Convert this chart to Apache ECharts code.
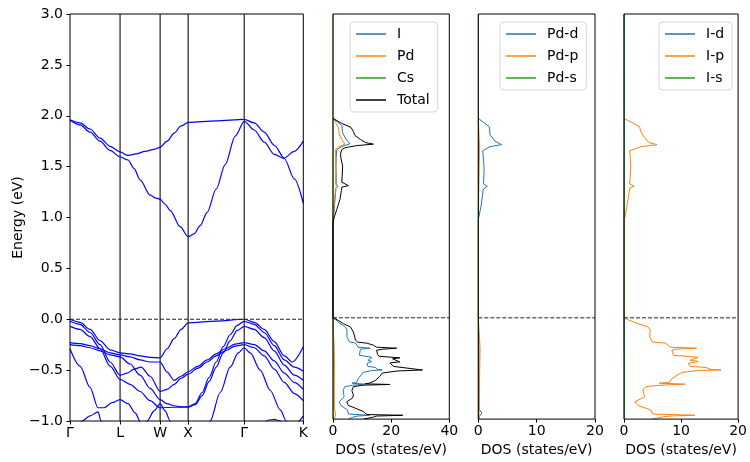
<!DOCTYPE html>
<html><head><meta charset="utf-8">
<script src="https://cdn.jsdelivr.net/npm/echarts@6/dist/echarts.min.js"></script>
<style>html,body{margin:0;padding:0;background:#fff}#c{width:750px;height:462px}</style>
</head><body><div id="c"></div>
<script>
// ---- k-path ----
const kTicks = [0, 50, 90, 118, 174, 233];
const kLabels = ['Γ', 'L', 'W', 'X', 'Γ', 'K'];
const fermiLevel = 0;
const energyRange = [-1, 3];

// ---- bands: [k, E(eV)] ----
const cb1 = [[0,1.955],[10,1.91],[20,1.84],[30,1.75],[40,1.66],[50,1.595],[58,1.565],[64,1.48],[70,1.37],[80,1.22],[86,1.19],[90,1.18],[95,1.13],[100,1.07],[110,0.91],[118,0.81],[124,0.84],[130,0.92],[137,1.05],[146,1.28],[155,1.52],[165,1.80],[174,1.945],[184,1.86],[194,1.74],[204,1.62],[214,1.58],[224,1.38],[233,1.14]];
const cb2 = [[0,1.96],[10,1.93],[20,1.87],[30,1.78],[40,1.70],[50,1.645],[58,1.61],[66,1.625],[75,1.65],[84,1.67],[90,1.69],[97,1.75],[104,1.83],[111,1.90],[118,1.935],[146,1.95],[174,1.965],[184,1.93],[194,1.84],[204,1.71],[214,1.585],[224,1.65],[233,1.75]];
const vb1 = [[0,0],[10,-0.03],[20,-0.10],[30,-0.21],[40,-0.30],[50,-0.33],[60,-0.34],[70,-0.36],[80,-0.375],[90,-0.38],[97,-0.29],[104,-0.19],[111,-0.10],[118,-0.035],[146,-0.018],[174,0],[184,-0.03],[194,-0.10],[204,-0.22],[214,-0.36],[222,-0.42],[233,-0.27]];
const vb2 = [[0,-0.02],[10,-0.05],[20,-0.13],[30,-0.25],[40,-0.42],[50,-0.55],[57,-0.53],[64,-0.49],[71,-0.47],[80,-0.56],[90,-0.71],[97,-0.69],[104,-0.64],[111,-0.58],[118,-0.539],[128,-0.48],[137,-0.42],[146,-0.36],[155,-0.31],[165,-0.265],[174,-0.25],[184,-0.28],[194,-0.36],[204,-0.49],[214,-0.62],[224,-0.73],[233,-0.80]];
const vb3 = [[0,-0.07],[10,-0.10],[20,-0.17],[30,-0.29],[40,-0.46],[50,-0.59],[60,-0.64],[70,-0.71],[80,-0.80],[90,-0.87],[104,-0.865],[118,-0.865],[125,-0.84],[132,-0.75],[139,-0.61],[146,-0.47],[153,-0.33],[160,-0.21],[167,-0.11],[174,-0.07],[184,-0.10],[194,-0.18],[204,-0.31],[214,-0.45],[224,-0.55],[233,-0.60]];
const vb4 = [[0,-0.23],[10,-0.24],[20,-0.26],[30,-0.29],[40,-0.33],[50,-0.35],[60,-0.37],[70,-0.40],[80,-0.42],[90,-0.42],[97,-0.52],[104,-0.60],[111,-0.56],[118,-0.516],[128,-0.46],[137,-0.40],[146,-0.34],[155,-0.29],[165,-0.245],[174,-0.23],[184,-0.25],[194,-0.31],[204,-0.41],[214,-0.53],[224,-0.62],[233,-0.69]];
const vb5 = [[0,-0.25],[10,-0.26],[20,-0.28],[30,-0.31],[40,-0.35],[50,-0.37],[60,-0.44],[70,-0.55],[80,-0.68],[90,-0.79],[97,-0.83],[104,-0.85],[111,-0.86],[118,-0.86],[125,-0.83],[132,-0.72],[139,-0.57],[146,-0.42],[153,-0.27],[160,-0.15],[167,-0.06],[174,-0.02],[184,-0.05],[194,-0.13],[204,-0.26],[214,-0.40],[224,-0.47],[233,-0.51]];
const db0 = [[6,-1.1],[12,-1.0],[20,-0.95],[28,-0.91],[31,-1.0],[34,-1.1]];
const db1 = [[0,-0.29],[10,-0.46],[20,-0.67],[28,-0.87],[34,-0.87],[42,-0.82],[50,-0.79],[58,-0.83],[65,-0.92],[71,-1.02],[75,-1.1]];
const db2 = [[135,-1.1],[140,-1.0],[150,-0.72],[160,-0.47],[168,-0.33],[174,-0.28],[180,-0.33],[190,-0.50],[200,-0.70],[210,-0.89],[216,-1.0],[220,-1.1]];
const db3 = [[72,-1.1],[77,-1.0],[84,-0.9],[90,-0.83],[95,-0.9],[100,-1.0],[104,-1.1]];
const db4 = [[192,-1.05],[198,-0.99],[204,-0.985],[210,-1.0],[214,-1.05]];
const db5 = [[220,-1.1],[226,-1.02],[233,-0.95]];

// ---- DOS: [E(eV), states/eV] ----
const dosTotal = [[1.97,0],[1.955,0.5],[1.92,3.0],[1.88,6.2],[1.84,7.0],[1.80,7.6],[1.76,9.5],[1.73,11.2],[1.715,13.9],[1.70,8.0],[1.68,4.2],[1.66,3.0],[1.62,2.6],[1.58,2.7],[1.50,3.3],[1.42,3.2],[1.34,3.0],[1.305,5.3],[1.29,3.0],[1.26,2.9],[1.17,2.4],[1.07,1.3],[1.00,0.5],[0.94,0],[0,0],[-0.02,1.5],[-0.057,3.6],[-0.09,6.0],[-0.14,7.0],[-0.19,7.5],[-0.22,7.7],[-0.24,8.5],[-0.25,11.6],[-0.27,13.9],[-0.29,15.0],[-0.30,21.9],[-0.31,17.0],[-0.32,15.0],[-0.36,15.3],[-0.38,15.8],[-0.395,23.0],[-0.405,20.5],[-0.42,20.5],[-0.435,23.0],[-0.445,19.6],[-0.48,20.8],[-0.50,26.5],[-0.515,30.8],[-0.525,22.0],[-0.545,17.0],[-0.58,16.0],[-0.62,14.5],[-0.645,12.5],[-0.652,11.0],[-0.658,19.6],[-0.665,10.0],[-0.68,7.0],[-0.72,6.5],[-0.76,7.0],[-0.79,6.8],[-0.83,4.7],[-0.865,5.3],[-0.89,7.5],[-0.925,10.4],[-0.955,11.6],[-0.962,24.0],[-0.97,15.0],[-0.98,13.9],[-1.0,10.5]];
const dosI = [[1.97,0],[1.94,1.2],[1.90,3.0],[1.83,3.3],[1.76,4.5],[1.72,5.9],[1.69,3.0],[1.66,1.3],[1.58,1.1],[1.50,1.0],[1.40,1.1],[1.32,1.1],[1.30,1.7],[1.28,1.0],[1.17,0.7],[1.05,0.35],[0.97,0],[0,0],[-0.02,0.9],[-0.047,2.0],[-0.09,4.3],[-0.12,4.8],[-0.19,4.8],[-0.237,5.6],[-0.25,7.8],[-0.29,8.6],[-0.30,12.8],[-0.31,9.4],[-0.32,8.8],[-0.37,9.1],[-0.39,13.3],[-0.42,12.0],[-0.43,13.3],[-0.45,11.7],[-0.48,12.0],[-0.49,14.6],[-0.51,15.4],[-0.515,16.9],[-0.52,13.3],[-0.54,10.4],[-0.60,8.7],[-0.64,8.1],[-0.645,6.5],[-0.655,10.9],[-0.665,6.8],[-0.68,4.1],[-0.71,3.5],[-0.78,3.8],[-0.83,2.1],[-0.865,2.7],[-0.91,5.0],[-0.95,5.3],[-0.962,12.6],[-0.97,8.3],[-0.98,7.0],[-1.0,5.3]];
const dosPd = [[1.97,0],[1.93,0.8],[1.88,1.9],[1.82,2.1],[1.76,3.0],[1.715,4.1],[1.69,2.0],[1.66,0.8],[1.55,1.0],[1.45,1.0],[1.32,0.9],[1.30,1.5],[1.28,0.9],[1.15,0.5],[1.0,0.1],[0.96,0],[0,0],[-0.1,0.1],[-0.3,0.4],[-0.5,0.5],[-0.7,0.4],[-0.9,0.5],[-0.95,0.9],[-1.0,0.5]];
const dosCs = [[3,0],[2,0],[1,0],[0,0],[-0.3,0.05],[-0.6,0.06],[-1.0,0.05]];
const dosPdD = [[1.97,0],[1.93,0.9],[1.886,1.9],[1.81,2.0],[1.745,2.85],[1.71,4.0],[1.69,2.0],[1.65,0.75],[1.55,0.9],[1.47,1.0],[1.32,0.9],[1.30,1.55],[1.27,0.85],[1.11,0.5],[0.97,0],[0,0],[-0.3,0.1],[-0.6,0.1],[-0.9,0.15],[-0.94,0.6],[-0.97,0.2],[-1.0,0.1]];
const dosPdP = [[1.97,0],[1.7,0.2],[1.3,0.1],[0.97,0],[0,0],[-0.1,0.1],[-0.3,0.3],[-0.5,0.25],[-0.8,0.15],[-1.0,0.1]];
const dosPdS = [[3,0],[2,0],[1,0],[0,0],[-0.5,0],[-1.0,0]];
const dosID = [[3,0],[1.7,0.05],[1,0],[0,0],[-0.5,0.05],[-1.0,0.05]];
const dosIP = [[1.97,0],[1.94,1.0],[1.89,2.7],[1.83,3.0],[1.78,3.6],[1.73,4.4],[1.71,5.8],[1.69,3.0],[1.65,1.0],[1.58,1.1],[1.50,1.2],[1.40,1.1],[1.32,1.0],[1.30,1.8],[1.28,1.0],[1.17,0.7],[1.05,0.35],[0.975,0.1],[0.95,0],[0,0],[-0.02,0.8],[-0.047,1.9],[-0.09,4.2],[-0.12,4.6],[-0.19,4.5],[-0.24,5.0],[-0.25,7.3],[-0.29,8.1],[-0.30,12.7],[-0.31,9.0],[-0.32,8.4],[-0.37,8.7],[-0.39,13.0],[-0.42,11.6],[-0.43,13.0],[-0.45,11.3],[-0.48,11.6],[-0.49,14.4],[-0.51,15.2],[-0.515,17.0],[-0.52,13.0],[-0.54,10.1],[-0.60,8.4],[-0.64,7.9],[-0.645,6.2],[-0.655,10.7],[-0.665,6.5],[-0.68,3.9],[-0.71,3.3],[-0.78,3.6],[-0.83,1.9],[-0.865,2.45],[-0.91,4.7],[-0.95,5.0],[-0.962,12.4],[-0.97,8.0],[-0.98,6.7],[-1.0,5.0]];
const dosIS = [[3,0.05],[2,0.05],[1,0.05],[0,0.05],[-0.5,0.08],[-1.0,0.08]];

const FONT = 'DejaVu Sans';
const C_BLUE = '#1f77b4', C_ORANGE = '#ff7f0e', C_GREEN = '#2ca02c';
const xMaxes = [233, 40, 20, 20];

const fmtE = v => (v < 0 ? '\u2212' + Math.abs(v).toFixed(1) : v.toFixed(1));

const grids = [
  {left: 70, top: 14, width: 233.3, height: 407},
  {left: 333, top: 14, width: 116.3, height: 407},
  {left: 478.3, top: 14, width: 116.7, height: 407},
  {left: 624, top: 14, width: 116, height: 407}
].map(g => Object.assign({show: true, z: 10, borderColor: '#000', borderWidth: 1, backgroundColor: 'transparent'}, g));

const tickLabel = {color: '#000', fontFamily: FONT, fontSize: 14};
const axisTickStyle = {show: true, inside: false, length: 3.5, lineStyle: {color: '#000', width: 1}};
const noLine = {show: false, onZero: false};

const xAxes = [
  {gridIndex: 0, type: 'value', min: 0, max: xMaxes[0], position: 'bottom',
   axisLine: noLine, splitLine: {show: false}, minorTick: {show: false},
   axisTick: Object.assign({customValues: kTicks}, axisTickStyle),
   axisLabel: Object.assign({customValues: kTicks, margin: 5,
     formatter: v => kLabels[kTicks.indexOf(v)] || ''}, tickLabel)}
];
[1, 2, 3].forEach(i => xAxes.push({
  gridIndex: i, type: 'value', min: 0, max: xMaxes[i], interval: xMaxes[i] / 2, position: 'bottom',
  axisLine: noLine, splitLine: {show: false}, minorTick: {show: false}, axisTick: axisTickStyle,
  axisLabel: Object.assign({margin: 5}, tickLabel),
  name: 'DOS (states/eV)', nameLocation: 'middle', nameGap: 21, nameTextStyle: tickLabel
}));

const yAxes = [0, 1, 2, 3].map(i => ({
  gridIndex: i, type: 'value', min: energyRange[0], max: energyRange[1], interval: 0.5, position: 'left',
  axisLine: noLine, splitLine: {show: false}, minorTick: {show: false},
  axisTick: i === 0 ? axisTickStyle : {show: false},
  axisLabel: i === 0 ? Object.assign({margin: 7, formatter: fmtE}, tickLabel) : {show: false},
  name: i === 0 ? 'Energy (eV)' : '', nameLocation: 'middle', nameGap: 45, nameRotate: 90,
  nameTextStyle: tickLabel
}));

const series = [];
// high-symmetry vertical lines
kTicks.slice(1, -1).forEach(k => series.push({
  type: 'line', xAxisIndex: 0, yAxisIndex: 0, symbol: 'none', silent: true, animation: false, z: 3,
  data: [[k, energyRange[0]], [k, energyRange[1]]],
  lineStyle: {color: '#222', width: 1.2}
}));
// Fermi level dashed lines
[0, 1, 2, 3].forEach(i => series.push({
  type: 'line', xAxisIndex: i, yAxisIndex: i, symbol: 'none', silent: true, animation: false, z: 4,
  data: [[0, fermiLevel], [xMaxes[i], fermiLevel]],
  lineStyle: {color: '#222', width: 1, type: [4, 2]}
}));

const bands = [cb1, cb2, vb1, vb2, vb3, vb4, vb5, db0, db1, db2, db3, db4, db5];
bands.forEach(b => series.push({
  type: 'line', xAxisIndex: 0, yAxisIndex: 0, data: b, symbol: 'none',
  smooth: 0.3, smoothMonotone: 'x', silent: true, animation: false, z: 2,
  lineStyle: {color: '#0000ff', width: 1.2}
}));

function dosSeries(name, arr, color, gi) {
  return {name, type: 'line', xAxisIndex: gi, yAxisIndex: gi, symbol: 'none',
    data: arr.map(p => [p[1], p[0]]), silent: true, animation: false, z: 2,
    lineStyle: {color, width: 1}, itemStyle: {color}};
}
series.push(dosSeries('I', dosI, C_BLUE, 1));
series.push(dosSeries('Pd', dosPd, C_ORANGE, 1));
series.push(dosSeries('Cs', dosCs, C_GREEN, 1));
series.push(dosSeries('Total', dosTotal, '#000', 1));
series.push(dosSeries('Pd-d', dosPdD, C_BLUE, 2));
series.push(dosSeries('Pd-p', dosPdP, C_ORANGE, 2));
series.push(dosSeries('Pd-s', dosPdS, C_GREEN, 2));
series.push(dosSeries('I-d', dosID, C_BLUE, 3));
series.push(dosSeries('I-p', dosIP, C_ORANGE, 3));
series.push(dosSeries('I-s', dosIS, C_GREEN, 3));

function legend(names, left) {
  return {data: names, left, top: 22, orient: 'vertical', selectedMode: false, z: 20,
    icon: 'rect', itemWidth: 30, itemHeight: 1.5, itemGap: 8,
    backgroundColor: 'rgba(255,255,255,0.8)', borderColor: '#d6d6d6', borderWidth: 1, borderRadius: 4,
    padding: [5, 8, 5, 6],
    textStyle: {color: '#000', fontFamily: FONT, fontSize: 14, lineHeight: 14, padding: [0, 0, 0, 6]}};
}

const chart = echarts.init(document.getElementById('c'), null, {renderer: 'canvas'});
chart.setOption({
  animation: false,
  backgroundColor: '#fff',
  textStyle: {fontFamily: FONT},
  grid: grids,
  xAxis: xAxes,
  yAxis: yAxes,
  legend: [legend(['I', 'Pd', 'Cs', 'Total'], 350), legend(['Pd-d', 'Pd-p', 'Pd-s'], 500), legend(['I-d', 'I-p', 'I-s'], 659)],
  series
});
</script></body></html>
